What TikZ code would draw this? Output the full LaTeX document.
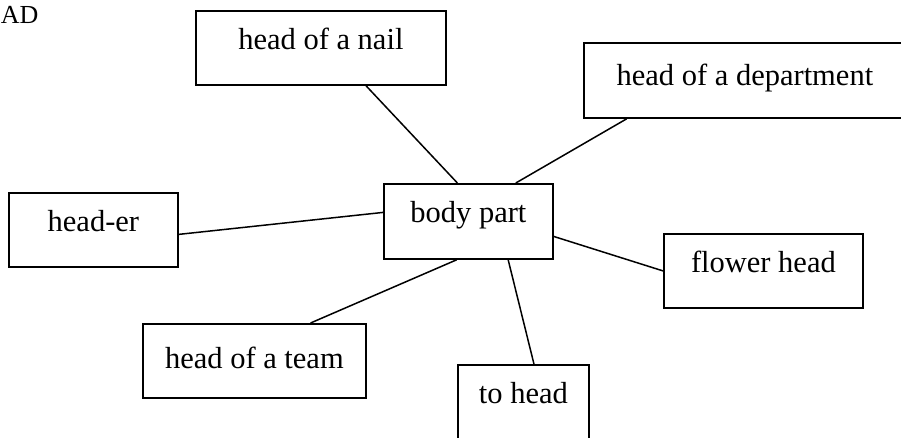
\documentclass[tikz,border=0pt]{standalone}
\usepackage{fontspec}
\setmainfont{Liberation Serif}
\usepackage{tikz}
\newcommand{\boxfont}{\fontsize{15.25pt}{18pt}\selectfont}
\newcommand{\titlefont}{\fontsize{13pt}{15pt}\selectfont}
\tikzset{
  wordbox/.style={draw, line width=0.9pt, inner sep=0pt, anchor=north west,
    text height=19.5pt, text depth=17.5pt, font=\boxfont},
  spoke/.style={line width=0.75pt}
}

\begin{document}
\begin{tikzpicture}[x=0.5pt,y=-0.5pt]
    \useasboundingbox (0,0) rectangle (901,438);
    \node[anchor=base west,font=\titlefont,inner sep=0pt] (title) at (0.5,23.5) {AD};
    % the centre word and the six senses round it
    \node[wordbox,minimum width=84.5pt,text depth=18pt] (body) at (383,183) {body part};
    \node[wordbox,minimum width=125pt] (nail) at (195,10) {head of a nail};
    \node[wordbox,minimum width=161pt,text height=21.5pt,text depth=16pt] (dept) at (583,42) {head of a department};
    \node[wordbox,minimum width=84.5pt] (header) at (8,192) {head-er};
    \node[wordbox,minimum width=99.5pt] (flower) at (663,233) {flower head};
    \node[wordbox,minimum width=111.5pt,text height=22.5pt,text depth=14.5pt] (team) at (142,323) {head of a team};
    \node[wordbox,minimum width=65.5pt,text depth=19pt] (tohead) at (457,364) {to head};
    % spokes
    \draw[spoke] (nail.-40) -- (body.106);
    \draw[spoke] (dept.-162) -- (body.39);
    \draw[spoke] (header.-3) -- (body.174);
    \draw[spoke] (flower.180) -- (body.-10);
    \draw[spoke] (team.34) -- (body.-107);
    \draw[spoke] (tohead.75) -- (body.-44);
  \end{tikzpicture}
\end{document}
